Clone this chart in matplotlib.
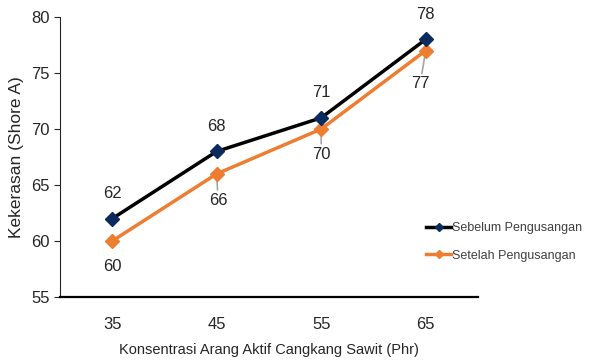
import matplotlib.pyplot as plt

# kekerasan karet vs konsentrasi arang aktif
konsentrasi = ['35', '45', '55', '65']
sebelum = [62, 68, 71, 78]
setelah = [60, 66, 70, 77]

plt.rcParams['font.family'] = ['Liberation Sans', 'DejaVu Sans']

fig = plt.figure(figsize=(5.93, 3.61), dpi=100)
ax = fig.add_axes([0.101, 0.177, 0.705, 0.776])

x = list(range(len(konsentrasi)))
ax.plot(x, sebelum, color='black', lw=2.5, marker='D', ms=7,
        mfc='#0b2a5e', mec='#0b2a5e', label='Sebelum Pengusangan', zorder=3)
ax.plot(x, setelah, color='#ed7d31', lw=2.5, marker='D', ms=7,
        mfc='#ed7d31', mec='#ed7d31', label='Setelah Pengusangan', zorder=2)

# label nilai
for i, v in enumerate(sebelum):
    ax.annotate(str(v), (i, v), xytext=(0, 18), textcoords='offset points',
                ha='center', va='center', fontsize=12, color='#262626')
offs = [18, 19, 18, 24]
dxs = [0, 1, 0, -4]
for i, v in enumerate(setelah):
    arrow = None
    if i > 0:
        arrow = dict(arrowstyle='-', color='#a6a6a6', lw=1.2, shrinkA=0, shrinkB=2)
    ax.annotate(str(v), (i, v), xytext=(dxs[i], -offs[i]), textcoords='offset points',
                ha='center', va='center', fontsize=12, color='#262626',
                arrowprops=arrow, zorder=1)

ax.set_xlim(-0.5, 3.5)
ax.set_ylim(55, 80)
ax.set_yticks(range(55, 81, 5))
ax.set_xticks(x)
ax.set_xticklabels(konsentrasi)
ax.tick_params(axis='x', length=0, pad=14, labelsize=12, colors='#262626')
ax.tick_params(axis='y', length=4, direction='out', labelsize=12, colors='#262626')
for s in ['top', 'right']:
    ax.spines[s].set_visible(False)
ax.spines['left'].set_color('#262626')
ax.spines['bottom'].set_color('black')
ax.spines['bottom'].set_linewidth(1.6)

ax.set_xlabel('Konsentrasi Arang Aktif Cangkang Sawit (Phr)', fontsize=10.5,
              color='#262626', labelpad=8)
ax.set_ylabel('Kekerasan (Shore A)', fontsize=12.5, color='#262626', labelpad=5)

fig.legend(loc='center left', bbox_to_anchor=(0.70, 0.33), frameon=False,
           fontsize=9, handlelength=2.0, handletextpad=0.05, labelspacing=1.25,
           markerscale=0.55, labelcolor='#404040')

fig.savefig('out.png', dpi=100)
